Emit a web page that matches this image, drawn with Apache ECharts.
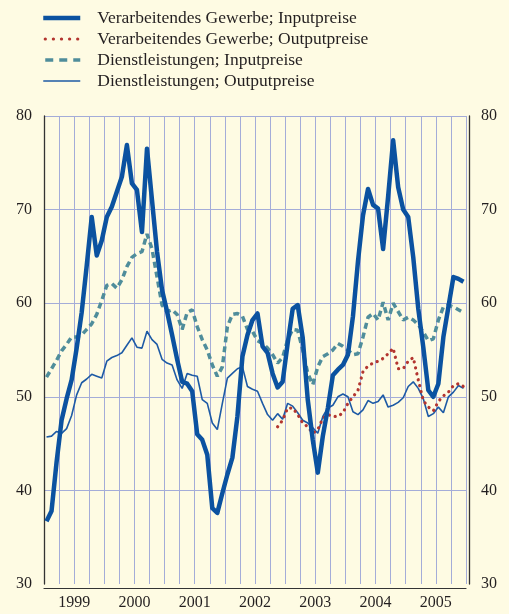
<!DOCTYPE html>
<html>
<head>
<meta charset="utf-8">
<script src="https://cdn.jsdelivr.net/npm/echarts@6/dist/echarts.min.js"></script>
<style>
  html, body { margin: 0; padding: 0; background: #fefbe3; }
  #chart { width: 509px; height: 614px; }
</style>
</head>
<body>
<div id="chart"></div>
<script>
  /*-----data-----*/
  var years = ['1999', '2000', '2001', '2002', '2003', '2004', '2005'];
  var months = [];
  years.forEach(function (y) {
    for (var m = 1; m <= 12; m++) months.push(y + '-' + (m < 10 ? '0' + m : m));
  });

  // Verarbeitendes Gewerbe; Inputpreise
  var vgInput = [
    36.7, 37.8, 43, 47.5, 49.8, 51.8, 55.2, 59, 64, 69.2, 65.1, 66.7,
    69.2, 70.3, 71.9, 73.5, 76.9, 72.8, 72.1, 67.6, 76.5, 71, 65.5, 61.4,
    59.1, 56.6, 54, 51.6, 51.4, 50.6, 46, 45.4, 43.8, 38.1, 37.6, 39.7,
    41.7, 43.5, 47.9, 54.3, 56.6, 58.2, 58.9, 55.4, 54.7, 52.5, 51, 51.6,
    55.7, 59.4, 59.8, 56.3, 49.7, 45.4, 41.9, 45.8, 48.8, 52.3, 52.9, 53.4,
    54.5, 58.6, 64.5, 69.4, 72.2, 70.5, 70.1, 65.8, 71.4, 77.4, 72.4, 70,
    69.2, 64.9, 59.4, 55.3, 50.7, 50, 51.4, 56.4, 59.6, 62.8, 62.6, 62.3
  ];
  // Verarbeitendes Gewerbe; Outputpreise (from mid 2002)
  var vgOutput = [
    null, null, null, null, null, null, null, null, null, null, null, null,
    null, null, null, null, null, null, null, null, null, null, null, null,
    null, null, null, null, null, null, null, null, null, null, null, null,
    null, null, null, null, null, null, null, null, null, null, 46.8, 47.5,
    48.8, 48.8, 48.1, 47.2, 46.8, 46.1, 46.5, 47.7, 48.1, 47.9, 47.9, 48.3,
    49.3, 50, 50.7, 52.7, 53.3, 53.6, 53.8, 54.1, 54.6, 55.2, 53, 53,
    53.8, 54.2, 51.8, 49.6, 48.9, 48.5, 49.5, 50.1, 50.5, 51.2, 51.4, 51.1
  ];
  // Dienstleistungen; Inputpreise
  var dlInput = [
    52.1, 53, 53.9, 54.9, 55.6, 56.4, 56.4, 56.6, 57.2, 57.8, 58.8, 60.3,
    61.9, 62.1, 61.6, 62.5, 63.9, 64.9, 65.3, 65.5, 67.4, 65.8, 62.8, 59.8,
    59.1, 59.3, 58.8, 57.2, 59, 59.3, 57.5, 56.1, 55, 53.4, 52.2, 53.2,
    57.5, 58.8, 58.9, 58.6, 57.2, 57, 56, 55.7, 55.2, 54.5, 53.6, 54.2,
    56.1, 57.2, 57.1, 55, 52.5, 51.3, 53.2, 54.3, 54.6, 55, 55.7, 55.4,
    55, 54.5, 54.6, 56.4, 58.5, 58.9, 58.2, 60.1, 58.2, 60, 59.1, 58.2,
    58.5, 58.2, 57.7, 56.9, 56, 56.2, 58.2, 59.6, 59.8, 59.6, 59.3, 59
  ];
  // Dienstleistungen; Outputpreise
  var dlOutput = [
    45.7, 45.8, 46.3, 46.1, 46.6, 48, 50.2, 51.5, 51.9, 52.4, 52.2, 52,
    53.8, 54.2, 54.4, 54.7, 55.5, 56.3, 55.3, 55.2, 57, 56.1, 55.6, 54,
    53.6, 53.4, 51.8, 50.9, 52.5, 52.3, 52.2, 49.7, 49.3, 47.2, 46.5, 49.3,
    52, 52.5, 53, 53.2, 51.1, 50.8, 50.6, 49.3, 48.1, 47.5, 48.2, 47.6,
    49.3, 49, 48.3, 47.5, 47.2, 46.7, 46.1, 47.9, 48.8, 49.1, 50, 50.3,
    50, 48.4, 48.1, 48.6, 49.6, 49.3, 49.5, 50.2, 48.9, 49.1, 49.4, 49.9,
    51.1, 51.6, 50.9, 49.8, 47.9, 48.2, 48.9, 48.3, 50, 50.5, 51.2, 50.9
  ];

  var names = [
    'Verarbeitendes Gewerbe; Inputpreise',
    'Verarbeitendes Gewerbe; Outputpreise',
    'Dienstleistungen; Inputpreise',
    'Dienstleistungen; Outputpreise'
  ];

  var font = 'Liberation Serif';
  var txt = '#231f20';
  var gridColor = '#a4acd8';

  // line looks of the series
  var styleVgIn = { color: '#0b52a0', width: 4.5, join: 'round' };
  var styleVgOut = { color: '#b3352f', width: 3.2, type: [0.1, 6], cap: 'round' };
  var styleDlIn = { color: '#4f8d9b', width: 3.5, type: [6, 4] };
  var styleDlOut = { color: '#1d5aa5', width: 1.6 };

  var chart = echarts.init(document.getElementById('chart'));

  var option = {
    backgroundColor: '#fefbe3',
    animation: false,
    legend: {
      data: [
        { name: names[0], lineStyle: styleVgIn },
        { name: names[1], lineStyle: { color: '#b3352f', width: 3.2, type: [0.1, 8], cap: 'round', dashOffset: -2 } },
        { name: names[2], lineStyle: { color: '#4f8d9b', width: 3.5, type: [8, 6] } },
        { name: names[3], lineStyle: styleDlOut }
      ],
      orient: 'vertical',
      left: 36,
      top: 4,
      itemWidth: 37,
      itemHeight: 14,
      itemGap: 3,
      itemStyle: { opacity: 0, color: 'rgba(0,0,0,0)', borderWidth: 0 },
      textStyle: {
        fontFamily: font,
        fontSize: 17.5,
        color: txt,
        padding: [0, 0, 0, 12]
      }
    },
    grid: {
      left: 44,
      right: 43,
      top: 116,
      bottom: 30
    },
    xAxis: [
      {
        type: 'category',
        data: months,
        boundaryGap: true,
        offset: 4,
        axisLine: { lineStyle: { color: '#333', width: 1.2 } },
        axisTick: { interval: 2, length: 4, lineStyle: { color: '#333', width: 1.2 } },
        axisLabel: { show: false },
        splitLine: { show: true, interval: 2, lineStyle: { color: gridColor, width: 1 } }
      },
      {
        type: 'category',
        data: years,
        position: 'bottom',
        boundaryGap: true,
        offset: 4,
        axisLine: { show: false },
        axisTick: { length: 9, lineStyle: { color: '#333', width: 1.2 } },
        axisLabel: { fontFamily: font, fontSize: 16, color: txt, margin: 7 },
        splitLine: { show: false }
      }
    ],
    yAxis: [
      {
        type: 'value',
        min: 30,
        max: 80,
        interval: 10,
        axisLine: { show: true, lineStyle: { color: '#333', width: 1.3 } },
        axisTick: { show: false },
        axisLabel: { fontFamily: font, fontSize: 16, color: txt, margin: 12 },
        splitLine: {
          lineStyle: { color: ['rgba(0,0,0,0)', gridColor, gridColor, gridColor, gridColor, gridColor], width: 1 }
        }
      },
      {
        type: 'value',
        position: 'right',
        offset: 3,
        min: 30,
        max: 80,
        interval: 10,
        axisLine: { show: true, lineStyle: { color: '#333', width: 1.3 } },
        axisTick: { show: false },
        axisLabel: { fontFamily: font, fontSize: 16, color: txt, margin: 12 },
        splitLine: { show: false }
      }
    ],
    series: [
      {
        name: names[2],
        type: 'line',
        data: dlInput,
        showSymbol: false,
        symbol: 'none',
        lineStyle: styleDlIn,
        color: styleDlIn.color
      },
      {
        name: names[3],
        type: 'line',
        data: dlOutput,
        showSymbol: false,
        symbol: 'none',
        lineStyle: styleDlOut,
        color: styleDlOut.color
      },
      {
        name: names[1],
        type: 'line',
        data: vgOutput,
        showSymbol: false,
        symbol: 'none',
        lineStyle: styleVgOut,
        color: styleVgOut.color
      },
      {
        name: names[0],
        type: 'line',
        data: vgInput,
        showSymbol: false,
        symbol: 'none',
        lineStyle: styleVgIn,
        color: styleVgIn.color
      }
    ]
  };

  chart.setOption(option);
</script>
</body>
</html>
